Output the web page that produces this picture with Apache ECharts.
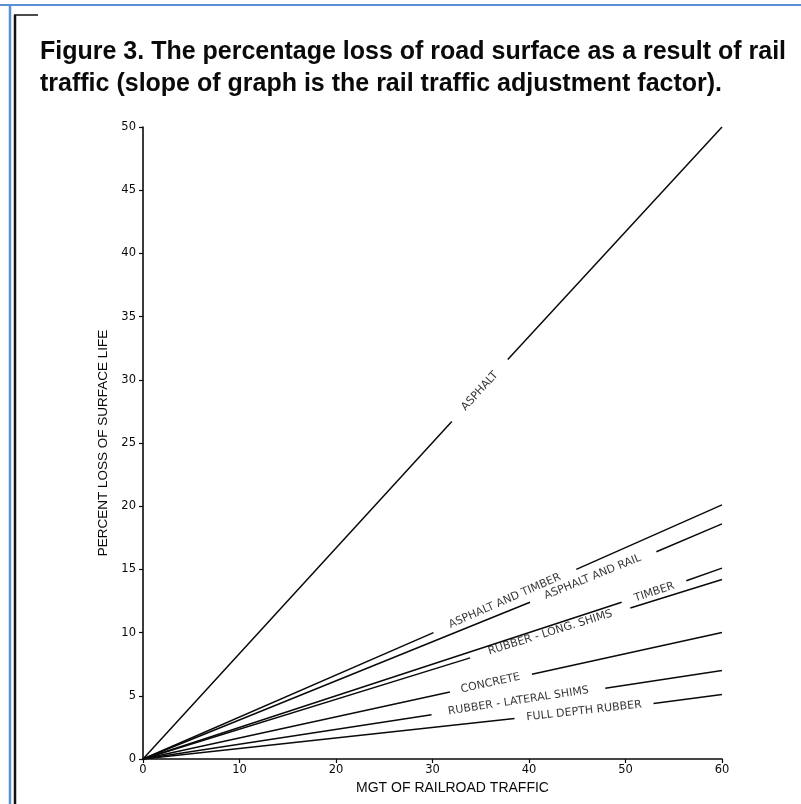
<!DOCTYPE html>
<html><head><meta charset="utf-8">
<script src="https://cdn.jsdelivr.net/npm/echarts@6/dist/echarts.min.js"></script>
<style>html,body{margin:0;padding:0;background:#fff}#c{width:801px;height:804px}</style>
</head><body><div id="c"></div>
<script>
// ---- data ----
const titleLines = ["Figure 3. The percentage loss of road surface as a result of rail",
                    "traffic (slope of graph is the rail traffic adjustment factor)."];
const xAxisName = "MGT OF RAILROAD TRAFFIC";
const yAxisName = "PERCENT LOSS OF SURFACE LIFE";
const surfaceNames = ["ASPHALT","ASPHALT AND TIMBER","ASPHALT AND RAIL","TIMBER",
                      "RUBBER - LONG. SHIMS","CONCRETE","RUBBER - LATERAL SHIMS","FULL DEPTH RUBBER"];
// each line: [mgt, percent]; null marks the gap where the label sits
const asphalt        = [[0,0],[32.0,26.7],[34.9,null],[37.8,31.6],[60,50]];
const asphaltTimber  = [[0,0],[30.1,10.0],[37.5,null],[44.9,15.0],[60,20.1]];
const asphaltRail    = [[0,0],[40.1,12.4],[46.6,null],[53.2,16.4],[60,18.6]];
const timber         = [[0,0],[49.6,12.4],[53.0,null],[56.3,14.1],[60,15.1]];
const rubberLong     = [[0,0],[33.9,8.0],[42.2,null],[50.5,11.95],[60,14.2]];
const concrete       = [[0,0],[31.8,5.3],[36.0,null],[40.3,6.7],[60,10.0]];
const rubberLateral  = [[0,0],[29.9,3.5],[38.9,null],[47.9,5.6],[60,7.0]];
const fullDepth      = [[0,0],[38.5,3.2],[45.7,null],[52.9,4.4],[60,5.1]];
const lineData = [asphalt, asphaltTimber, asphaltRail, timber, rubberLong, concrete, rubberLateral, fullDepth];
// label anchor (centre of each gap)
const labelX = [34.9, 37.5, 46.6, 53.0, 42.2, 36.0, 38.9, 45.7];
const labelY = [29.1, 12.5, 14.4, 13.2, 10.0, 6.0, 4.6, 3.8];
const xTicks = [0,10,20,30,40,50,60];
const yTicks = [0,5,10,15,20,25,30,35,40,45,50];

const chart = echarts.init(document.getElementById('c'), null, {renderer:'canvas'});
const ink = '#0a0a0a';
const lineSeries = lineData.map((d,i)=>({
  type:'line', name:surfaceNames[i], data:d, symbol:'none', connectNulls:false,
  lineStyle:{color:ink, width:1.5}, silent:true, animation:false, z:2
}));
function labelSeries(rot){
  return {
    type:'scatter', symbolSize:0, animation:false, silent:true, z:3,
    data: surfaceNames.map((n,i)=>({name:n, value:[labelX[i], labelY[i]],
      label:{show:true, position:'inside', formatter:n, rotate:rot[i]||0,
        fontFamily:'DejaVu Sans', fontSize:11, color:'#000', align:'center', verticalAlign:'middle'}}))
  };
}
const option = {
  backgroundColor:'#fff',
  animation:false,
  title:{text:titleLines.join('\n'), left:35, top:31,
    textStyle:{fontFamily:'Liberation Sans', fontWeight:'bold', fontSize:25, lineHeight:32, color:ink}},
  grid:{left:143, right:79, top:127, bottom:45, containLabel:false},
  xAxis:{type:'value', min:0, max:60, interval:10, name:xAxisName, nameLocation:'middle', nameGap:18,
    nameTextStyle:{fontFamily:'Liberation Sans', fontSize:14, color:ink, padding:[0,0,0,40], verticalAlign:'top'},
    axisLine:{lineStyle:{color:ink, width:1.6}}, axisTick:{show:true, length:4, lineStyle:{color:ink, width:1.2}},
    axisLabel:{fontFamily:'DejaVu Sans', fontSize:11.5, color:ink, margin:5},
    splitLine:{show:false}},
  yAxis:{type:'value', min:0, max:50, interval:5, name:yAxisName, nameLocation:'middle', nameGap:31,
    nameTextStyle:{fontFamily:'Liberation Sans', fontSize:13.5, color:ink},
    axisLine:{show:true, lineStyle:{color:ink, width:1.6}}, axisTick:{show:true, length:4, lineStyle:{color:ink, width:1.2}},
    axisLabel:{fontFamily:'DejaVu Sans', fontSize:11.5, color:ink, margin:7},
    splitLine:{show:false}},
  graphic:[
    {type:'line', shape:{x1:0,y1:5,x2:801,y2:5}, style:{stroke:'#5b8fd3', lineWidth:2}, z:10},
    {type:'line', shape:{x1:10,y1:5,x2:10,y2:804}, style:{stroke:'#5b8fd3', lineWidth:2.5}, z:10},
    {type:'line', shape:{x1:15,y1:15,x2:15,y2:804}, style:{stroke:'#111', lineWidth:2.5}, z:10},
    {type:'line', shape:{x1:14,y1:15,x2:38,y2:15}, style:{stroke:'#111', lineWidth:1.5}, z:10}
  ],
  series: lineSeries.concat([labelSeries([])])
};
chart.setOption(option);
// rotate each label to follow its line on screen
const rot = lineData.map(d=>{
  const a = chart.convertToPixel({gridIndex:0}, d[0]);
  const b = chart.convertToPixel({gridIndex:0}, d[d.length-1]);
  return Math.atan2(a[1]-b[1], b[0]-a[0]) * 180/Math.PI;
});
chart.setOption({series: lineSeries.concat([labelSeries(rot)])});
</script></body></html>
